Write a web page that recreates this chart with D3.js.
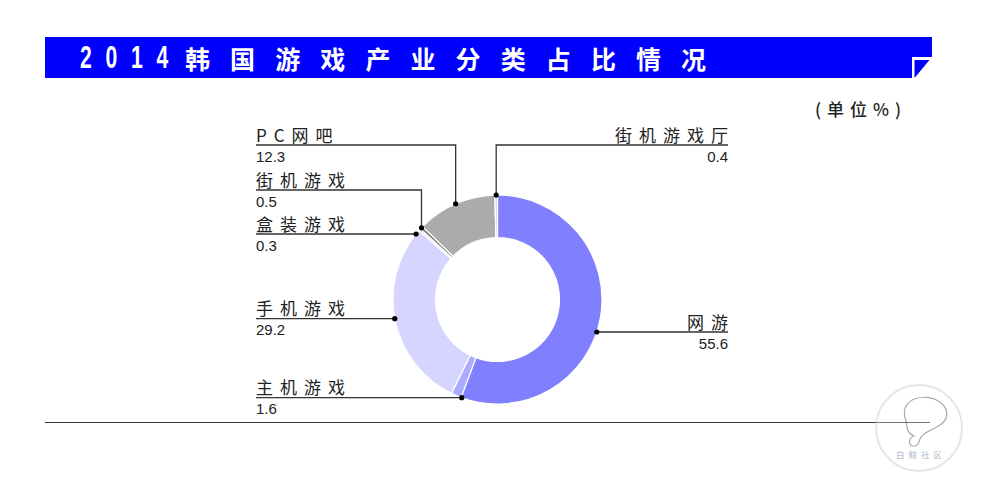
<!DOCTYPE html>
<html>
<head>
<meta charset="utf-8">
<script src="https://cdn.jsdelivr.net/npm/d3@7"></script>
<style>
  html, body { margin: 0; padding: 0; background: #fff; }
  svg { display: block; }
</style>
</head>
<body>
<svg id="chart" width="987" height="490"></svg>
<script>
// ---- data ----
const categories = ["网游", "主机游戏", "手机游戏", "盒装游戏", "街机游戏", "PC网吧", "街机游戏厅"];
const values = [55.6, 1.6, 29.2, 0.3, 0.5, 12.3, 0.4];
const sliceColors = ["#8080ff", "#ababff", "#d5d5ff", "#d9d9d9", "#7f7f7f", "#ababab", "#d6d6d6"];
const titleYear = "2014";
const titleText = "韩国游戏产业分类占比情况";
const unitText = "(单位%)";

// ---- layout ----
const svg = d3.select("#chart");
const cx = 497.5, cy = 299.5, rOuter = 104.5, rInner = 62;
const leftX = 256, rightX = 728;
const CJK = "'Noto Sans CJK SC', 'Noto Sans', sans-serif";
const NUMF = "'Liberation Sans', Arial, sans-serif";

// label placement (layout): side, leader type, label-line y
const labelLayout = {
  "网游":      {side: "right", type: "h", y: 332},
  "主机游戏":  {side: "left",  type: "h", y: 397.7},
  "手机游戏":  {side: "left",  type: "h", y: 318.7},
  "盒装游戏":  {side: "left",  type: "h", y: 234},
  "街机游戏":  {side: "left",  type: "e", y: 190},
  "PC网吧":    {side: "left",  type: "e", y: 145},
  "街机游戏厅":{side: "right", type: "e", y: 145}
};

// title bar with notched corner
const barL = 45, barR = 932, barT = 37, barB = 78, nX = 912, nY = 57;
svg.append("path")
  .attr("d", `M${barL},${barT}H${barR}V${nY}H${nX}V${barB}H${barL}Z`)
  .attr("fill", "#0000ff");
svg.append("path")
  .attr("d", `M${nX + 2.5},${nY + 3}H${barR - 2.5}L${nX + 2.5},${barB}Z`)
  .attr("fill", "#0000ff");

// title: condensed digits + spaced CJK characters
titleYear.split("").forEach((ch, i) => {
  svg.append("text")
    .attr("transform", `translate(${80 + i * 25.5},68) scale(0.66,1)`)
    .attr("font-family", NUMF).attr("font-weight", "bold")
    .attr("font-size", 32).attr("fill", "#fff")
    .text(ch);
});
titleText.split("").forEach((ch, i) => {
  svg.append("text")
    .attr("x", 185 + i * 45.1).attr("y", 68.5)
    .attr("font-family", CJK).attr("font-weight", "bold")
    .attr("font-size", 25).attr("fill", "#fff")
    .text(ch);
});

// unit
svg.append("text")
  .attr("x", 815).attr("y", 116)
  .attr("font-family", CJK).attr("font-size", 17).attr("font-weight", 500)
  .attr("letter-spacing", 6).attr("fill", "#222")
  .text(unitText);

// bottom rule
svg.append("line")
  .attr("x1", 45).attr("x2", 930).attr("y1", 422.5).attr("y2", 422.5)
  .attr("stroke", "#333").attr("stroke-width", 1.2);

// ---- donut ----
const data = categories.map((c, i) => ({name: c, value: values[i], color: sliceColors[i]}));
const pie = d3.pie().value(d => d.value).sort(null).startAngle(0).endAngle(2 * Math.PI);
const arcs = pie(data);
const arc = d3.arc().innerRadius(rInner).outerRadius(rOuter);

const g = svg.append("g").attr("transform", `translate(${cx},${cy})`);
g.selectAll("path.slice").data(arcs).join("path")
  .attr("class", "slice")
  .attr("d", arc)
  .attr("fill", d => d.data.color)
  .attr("stroke", "#fff").attr("stroke-width", 1.2);

// ---- labels & leaders ----
const lg = svg.append("g");
arcs.forEach(a => {
  const L = labelLayout[a.data.name];
  let px, py;
  if (L.type === "h") {
    const dy = L.y - cy;
    const dx = Math.sqrt(Math.max(0, rOuter * rOuter - dy * dy));
    px = L.side === "left" ? cx - dx : cx + dx;
    py = L.y;
  } else {
    const mid = (a.startAngle + a.endAngle) / 2;
    px = cx + rOuter * Math.sin(mid);
    py = cy - rOuter * Math.cos(mid);
  }
  const lineStart = L.side === "left" ? leftX : rightX;
  let d = `M${lineStart},${L.y}H${px}`;
  if (L.type === "e") d += `V${py}`;
  lg.append("path").attr("d", d)
    .attr("fill", "none").attr("stroke", "#333").attr("stroke-width", 1.3);
  lg.append("circle").attr("cx", px).attr("cy", py).attr("r", 2.6).attr("fill", "#000");

  const ls = 7;
  lg.append("text")
    .attr("x", L.side === "left" ? leftX : rightX + ls)
    .attr("y", L.y - 3.5)
    .attr("text-anchor", L.side === "left" ? "start" : "end")
    .attr("font-family", CJK).attr("font-size", 17)
    .attr("letter-spacing", ls).attr("fill", "#222")
    .text(a.data.name);
  lg.append("text")
    .attr("x", L.side === "left" ? leftX : rightX)
    .attr("y", L.y + 16.5)
    .attr("text-anchor", L.side === "left" ? "start" : "end")
    .attr("font-family", NUMF).attr("font-size", 15)
    .attr("fill", "#222")
    .text(d3.format(".1f")(a.data.value));
});

// watermark
const wm = svg.append("g").attr("opacity", 0.55);
wm.append("circle").attr("cx", 919).attr("cy", 428).attr("r", 43)
  .attr("fill", "#fff").attr("fill-opacity", 0.6)
  .attr("stroke", "#d0d0d0").attr("stroke-width", 2);
wm.append("path")
  .attr("d", "M905,418 C900,398 925,392 940,402 C950,410 948,420 940,425 C932,430 925,432 922,436 C918,440 920,446 914,446 C908,446 908,438 914,436 C904,432 908,422 905,418 Z")
  .attr("fill", "none").attr("stroke", "#666").attr("stroke-width", 1.2);
wm.append("text").attr("x", 921).attr("y", 458).attr("text-anchor", "middle")
  .attr("font-family", CJK).attr("font-size", 8.5).attr("letter-spacing", 4)
  .attr("fill", "#6a7fa8").text("白鲸社区");
</script>
</body>
</html>
